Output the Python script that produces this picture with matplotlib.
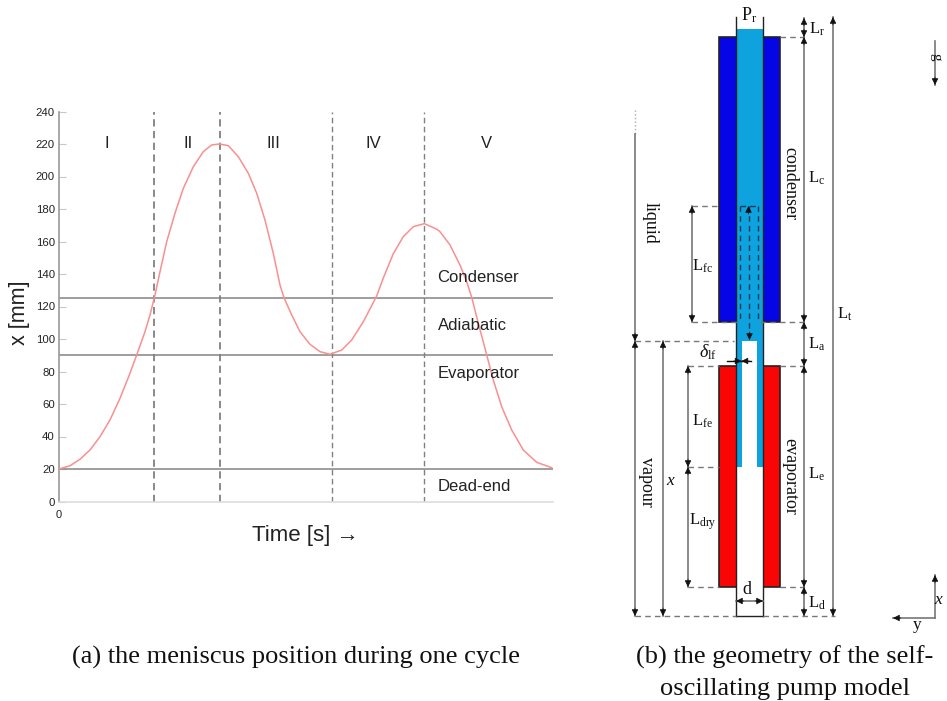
import matplotlib
matplotlib.use("Agg")
import matplotlib.pyplot as plt
from matplotlib.patches import Rectangle

plt.rcParams["mathtext.fontset"] = "custom"
plt.rcParams["mathtext.rm"] = "Liberation Serif"
plt.rcParams["mathtext.it"] = "Liberation Serif:italic"

SANS = ["Liberation Sans", "DejaVu Sans"]
SERIF = ["Liberation Serif", "DejaVu Serif"]

# --- left chart data ---
time_s = [0, 11, 21, 31, 41, 51, 61, 71, 78.3, 86, 91, 96, 101, 107.7, 116, 124.3, 134.3, 144.3, 152.7,
          160.3, 169.3, 179.3, 189.3, 197.7, 206, 214.3, 221, 225, 232.7, 241, 251, 261, 271, 282.7,
          292.7, 304.3, 317.7, 324.3, 334.3, 344.3, 354.3, 365.3, 377.7, 381, 391, 401, 407.7, 412.7,
          419.3, 427.7, 434.3, 442.7, 452.7, 464.3, 477.7, 492.7]
x_mm = [20, 22, 26, 31.7, 39.9, 50.2, 63.5, 78.9, 91.2, 104.5, 114.8, 127.1, 141.4, 159.9, 177.4, 192.7,
        206, 215.3, 219.4, 220, 219, 212.2, 202, 189.7, 173.2, 152.7, 133.2, 125.4, 114.8, 104.5, 96.7,
        92.2, 90.6, 93.2, 99.4, 110.6, 126.5, 137.5, 152.5, 163, 169.1, 171, 167.6, 166, 157.9, 145.5,
        135.3, 125.7, 109.7, 90.2, 74.8, 58.3, 44, 31.7, 24.1, 20.8]
region_edges = [95, 161, 273, 365]
region_names = ["I", "II", "III", "IV", "V"]
region_text_x = [48, 129, 214, 314, 427]
zone_levels = [125, 90, 20]
zone_names = ["Condenser", "Adiabatic", "Evaporator", "Dead-end"]
zone_text_y = [138, 108.5, 78.5, 9.5]
y_ticks = list(range(0, 241, 20))

# --- right schematic levels (drawn in picture units) ---
tube_top, fluid_top, cond_top, cond_bot = 17, 29, 37, 322
meniscus, evap_top, film_end, evap_bot, tube_bot = 341, 366, 467, 587, 616
film_top = 206
outer_l, tube_l, gas_l, gas_r, tube_r, outer_r = 719, 736, 741.5, 757, 763, 780

fig = plt.figure(figsize=(9.47, 7.01), dpi=100)

# chart (a)
ax = fig.add_axes([59 / 947, 1 - 501.5 / 701, 494 / 947, 390 / 701])
ax.set_xlim(0, 494)
ax.set_ylim(0, 240)
ax.plot(time_s, x_mm, color="#fa8f8f", lw=1.1, zorder=3)
for lev in zone_levels:
    ax.axhline(lev, color="#8e8e8e", lw=1.2, zorder=2)
for i, e in enumerate(region_edges):
    ax.axvline(e, color="#808080", lw=1.3 if i < 2 else 1.0, ls=(0, (4, 2.5)), zorder=2)
for name, tx in zip(region_names, region_text_x):
    ax.text(tx, 220, name, ha="center", va="center", fontsize=12, family=SANS, color="#222222")
for name, ty in zip(zone_names, zone_text_y):
    ax.text(378.5, ty, name, ha="left", va="center", fontsize=12, family=SANS, color="#222222")
ax.set_xticks([0])
ax.set_xticklabels(["0"], family=SANS, fontsize=8)
ax.set_yticks(y_ticks)
ax.set_yticklabels([str(v) for v in y_ticks], family=SANS, fontsize=8.2)
ax.tick_params(axis="y", direction="in", length=5, width=0.8, color="#c8c8c8", pad=3, labelcolor="#222222")
ax.tick_params(axis="x", length=0, pad=6, labelcolor="#222222")
for s in ["top", "right"]:
    ax.spines[s].set_visible(False)
ax.spines["left"].set_color("#9a9a9a")
ax.spines["left"].set_linewidth(1.2)
ax.spines["bottom"].set_color("#dddddd")
ax.spines["bottom"].set_linewidth(1.2)
ax.patch.set_alpha(0)

# overlay in picture coordinates
top = fig.add_axes([0, 0, 1, 1], zorder=5)
top.set_xlim(0, 947)
top.set_ylim(701, 0)
top.axis("off")

top.text(20, 313, "x [mm]", rotation=90, ha="center", va="center", fontsize=15.5, family=SANS, color="#222222")
top.text(252, 536, "Time [s] \u2192", ha="left", va="center", fontsize=16, family=SANS, color="#222222")
top.text(295.5, 657, "(a) the meniscus position during one cycle", ha="center", va="center",
         fontsize=19, family=SERIF, color="#111111")
top.text(785, 657, "(b) the geometry of the self-", ha="center", va="center", fontsize=19, family=SERIF, color="#111111")
top.text(785, 689, "oscillating pump model", ha="center", va="center", fontsize=19, family=SERIF, color="#111111")


def box(x0, y0, x1, y1, fc, ec="none", lw=0.0, z=2):
    top.add_patch(Rectangle((x0, y0), x1 - x0, y1 - y0, facecolor=fc, edgecolor=ec, linewidth=lw, zorder=z))


def head(x0, y0, x1, y1, color="#111111"):
    # short black head at (x1, y1), pointing away from (x0, y0)
    d = ((x1 - x0) ** 2 + (y1 - y0) ** 2) ** 0.5
    bx = x1 - (x1 - x0) / d * 8
    by = y1 - (y1 - y0) / d * 8
    top.annotate("", xy=(x1, y1), xytext=(bx, by), zorder=6,
                 arrowprops=dict(arrowstyle="-|>", color=color, lw=0.5, shrinkA=0, shrinkB=0,
                                 mutation_scale=10))


def arrow(x0, y0, x1, y1, both=True, color="#777777", lw=1.2):
    top.plot([x0, x1], [y0, y1], color=color, lw=lw, zorder=5)
    head(x0, y0, x1, y1)
    if both:
        head(x1, y1, x0, y0)


def dash(x0, y0, x1, y1, color="#777777", lw=1.0):
    top.plot([x0, x1], [y0, y1], color=color, lw=lw, ls=(0, (4, 3)), zorder=4)


def label(x, y, s, rot=0, size=12):
    top.text(x, y, s, rotation=rot, ha="center", va="center", fontsize=size, family=SERIF, color="#111111", zorder=7)


# jackets
box(outer_l, cond_top, outer_r, cond_bot, "#0505e6", "#222222", 1.2)
box(outer_l, evap_top, outer_r, evap_bot, "#fa0505", "#222222", 1.2)
# tube contents
box(tube_l, fluid_top, tube_r, film_end, "#0ea2de", z=3)
box(gas_l, meniscus, gas_r, film_end, "white", z=3)
box(tube_l, film_end, tube_r, tube_bot, "white", z=3)
# tube walls
for xw in [tube_l, tube_r]:
    top.plot([xw, xw], [tube_top, tube_bot], color="#222222", lw=1.0, zorder=4)
top.plot([tube_l, tube_r], [tube_bot, tube_bot], color="#222222", lw=1.0, zorder=4)

# dashed extension lines
dash(780, cond_top, 804, cond_top)
dash(692, film_top, 719, film_top)
dash(692, cond_bot, 738, cond_bot)
dash(760, cond_bot, 804, cond_bot)
dash(635, meniscus, 734, meniscus)
dash(688, evap_top, 719, evap_top)
dash(780, evap_top, 804, evap_top)
dash(688, film_end, 719, film_end)
dash(688, evap_bot, 719, evap_bot)
dash(780, evap_bot, 804, evap_bot)
dash(635, tube_bot, 736, tube_bot)
dash(763, tube_bot, 835, tube_bot)

# dashed liquid loop inside the tube
loop = "#123a55"
dash(740, film_top, 740, cond_bot, loop)
dash(758, film_top, 758, cond_bot, loop)
dash(740, film_top, 758, film_top, loop)
dash(749, film_top, 749, meniscus - 1, loop)
head(748.5, film_top + 20, 748.5, film_top)
head(749.5, meniscus - 20, 749.5, meniscus - 1)

# dimension arrows
arrow(804, tube_top + 1, 804, cond_top)
arrow(804, cond_top, 804, cond_bot)
arrow(804, cond_bot, 804, evap_top)
arrow(804, evap_top, 804, evap_bot)
arrow(804, evap_bot, 804, tube_bot)
arrow(833, tube_top, 833, tube_bot)
arrow(692, film_top, 692, cond_bot)
arrow(688, evap_top, 688, film_end)
arrow(688, film_end, 688, evap_bot)
arrow(635, 134, 635, meniscus, both=False)
arrow(635, meniscus, 635, tube_bot)
arrow(663, meniscus, 663, tube_bot)
arrow(736, 601, 763, 601)
arrow(727, 361, gas_l, 361, both=False, color="#111111", lw=1.0)
arrow(751, 361, gas_l, 361, both=False, color="#111111", lw=1.0)
arrow(935, 41, 935, 85, both=False)
arrow(935, 618, 935, 575, both=False)
arrow(935, 618, 893, 618, both=False)
top.plot([635, 635], [110, 134], color="#aaaaaa", lw=1.0, ls=":", zorder=4)

# schematic labels
label(749, 15, r"P$_{\mathrm{r}}$", size=13)
label(817, 29, r"L$_{\mathrm{r}}$")
label(817, 178, r"L$_{\mathrm{c}}$")
label(703, 266, r"L$_{\mathrm{fc}}$")
label(817, 344, r"L$_{\mathrm{a}}$")
label(845, 314, r"L$_{\mathrm{t}}$")
label(817, 474, r"L$_{\mathrm{e}}$")
label(702, 421, r"L$_{\mathrm{fe}}$")
label(703, 522, r"L$_{\mathrm{dry}}$")
label(817, 603, r"L$_{\mathrm{d}}$")
label(708, 352, r"$\delta_{\mathrm{lf}}$", size=13)
label(747, 589, "d", size=13)
label(671, 481, "$x$", size=12.5)
label(939, 600, "$x$", size=12.5)
label(917, 625, "y", size=12.5)
label(936, 57, "g", rot=270, size=11)
label(790, 184, "condenser", rot=270, size=13)
label(790, 476, "evaporator", rot=270, size=13)
label(650, 223, "liquid", rot=270, size=13)
label(646, 482, "vapour", rot=270, size=13)

fig.savefig("out.png", dpi=100)
